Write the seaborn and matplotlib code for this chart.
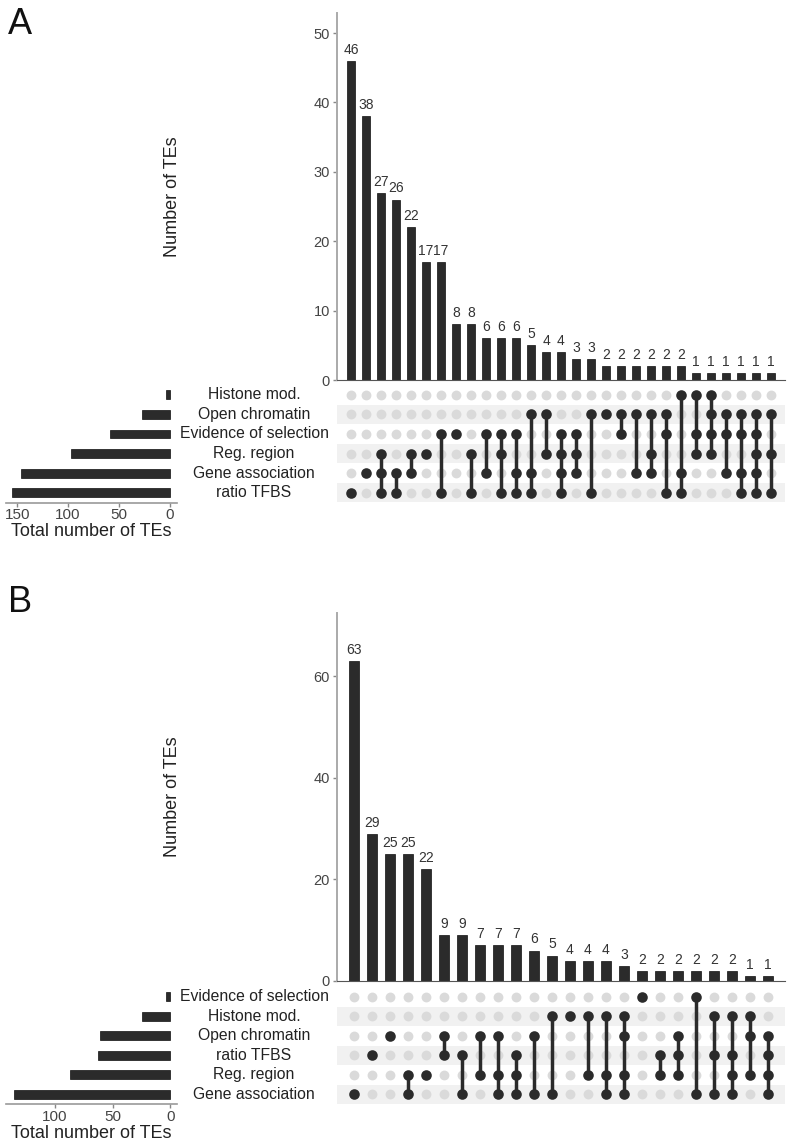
import numpy as np
import pandas as pd
import seaborn as sns
import matplotlib.pyplot as plt

# nomes dos conjuntos (codigo de uma letra -> rotulo)
names = {'H': 'Histone mod.', 'O': 'Open chromatin', 'E': 'Evidence of selection',
         'R': 'Reg. region', 'G': 'Gene association', 'T': 'ratio TFBS'}

# Painel A: linhas da matriz de cima para baixo, intersecoes e contagens
rowsA = ['H', 'O', 'E', 'R', 'G', 'T']
combosA = ['T', 'G', 'RGT', 'GT', 'RG', 'R', 'ET', 'E', 'RT', 'EG', 'ERT', 'EGT', 'OGT', 'OR',
           'ERGT', 'ERG', 'OT', 'O', 'OE', 'OG', 'ORG', 'OET', 'HGT', 'HER', 'HOER', 'OEG',
           'OEGT', 'OERGT', 'ORT']
countsA = [46, 38, 27, 26, 22, 17, 17, 8, 8, 6, 6, 6, 5, 4, 4, 3, 3, 2, 2, 2, 2, 2, 2,
           1, 1, 1, 1, 1, 1]
yticksA = [0, 10, 20, 30, 40, 50]
xticksA = [150, 100, 50, 0]

# Painel B
rowsB = ['E', 'H', 'O', 'T', 'R', 'G']
combosB = ['G', 'T', 'O', 'RG', 'R', 'OT', 'TG', 'OR', 'ORG', 'TRG', 'OG', 'HG', 'H', 'HR',
           'HRG', 'HORG', 'E', 'TR', 'OTR', 'EG', 'HTG', 'HTRG', 'HOR', 'OTRG']
countsB = [63, 29, 25, 25, 22, 9, 9, 7, 7, 7, 6, 5, 4, 4, 4, 3, 2, 2, 2, 2, 2, 2, 1, 1]
yticksB = [0, 20, 40, 60]
xticksB = [100, 50, 0]

W, H = 787, 1144
DARK = '#2b2b2b'
GREY_DOT = '#dadada'
BAND = '#f1f1f1'
TXT = '#222222'


def box(l, t, r, b):
    return [l / W, 1 - b / H, (r - l) / W, (b - t) / H]


def upset(fig, rows, combos, counts, yticks, xticks, g):
    n = len(combos)
    margin = 0.95
    xlim = (-margin, n - 1 + margin)

    # barras principais
    ax = fig.add_axes(box(337, g['bar_top'], 785, g['bar_bot']))
    df = pd.DataFrame({'i': range(n), 'n': counts})
    sns.barplot(data=df, x='i', y='n', color=DARK, saturation=1, width=0.55,
                edgecolor='#111111', linewidth=0.5, ax=ax)
    ax.bar_label(ax.containers[0], fmt='%d', padding=3, fontsize=10, color='#333333')
    ax.set_xlim(*xlim)
    ax.set_ylim(0, max(counts) * 1.15)
    ax.set_xticks([])
    ax.set_xlabel('')
    ax.set_yticks(yticks)
    ax.set_ylabel('Number of TEs', fontsize=13, color=TXT)
    ax.yaxis.set_label_coords(-0.348, 0.5)
    ax.tick_params(axis='y', left=True, labelsize=10.5, colors='#888888',
                   labelcolor='#444444', length=3, width=1, pad=2)
    for s in ['top', 'right']:
        ax.spines[s].set_visible(False)
    ax.spines['left'].set_color('#aaaaaa')
    ax.spines['left'].set_linewidth(1.4)
    ax.spines['bottom'].set_color('#555555')
    ax.spines['bottom'].set_linewidth(0.8)

    # matriz de pontos
    axm = fig.add_axes(box(337, g['mat_top'], 785, g['mat_bot']))
    recs = []
    for c, combo in enumerate(combos):
        for r, key in enumerate(rows):
            recs.append([c, r, key in combo])
    grid = pd.DataFrame(recs, columns=['col', 'row', 'on'])
    for r in range(1, len(rows), 2):
        axm.axhspan(r - 0.5, r + 0.5, color=BAND, zorder=0, lw=0)
    sns.scatterplot(data=grid[~grid['on']], x='col', y='row', color=GREY_DOT, s=50,
                    linewidth=0, ax=axm, zorder=2)
    for c in range(n):
        on = grid[(grid['col'] == c) & grid['on']]['row']
        axm.plot([c, c], [on.min(), on.max()], color=DARK, lw=2.5, zorder=3,
                 solid_capstyle='butt')
    sns.scatterplot(data=grid[grid['on']], x='col', y='row', color=DARK, s=58,
                    linewidth=0, ax=axm, zorder=4)
    axm.set_xlim(*xlim)
    axm.set_ylim(len(rows) - 0.5, -0.5)
    axm.set_axis_off()

    # tamanhos dos conjuntos
    axs = fig.add_axes(box(6, g['mat_top'], 177, g['mat_bot']))
    sizes = [sum(cnt for combo, cnt in zip(combos, counts) if key in combo) for key in rows]
    sdf = pd.DataFrame({'set': rows, 'size': sizes})
    sns.barplot(data=sdf, x='size', y='set', order=rows, orient='h', color=DARK,
                saturation=1, width=0.45, edgecolor='#111111', linewidth=0.5, ax=axs)
    axs.set_xlim(*g['set_xlim'])
    axs.set_ylim(len(rows) - 0.5, -0.5)
    axs.set_yticks([])
    axs.set_ylabel('')
    axs.set_xticks(xticks)
    axs.set_xlabel('Total number of TEs', fontsize=13, color=TXT, labelpad=1)
    axs.tick_params(axis='x', bottom=True, labelsize=11, colors='#888888',
                    labelcolor='#444444', length=3, width=1, pad=1)
    for s in ['top', 'right', 'left']:
        axs.spines[s].set_visible(False)
    axs.spines['bottom'].set_color('#999999')
    axs.spines['bottom'].set_linewidth(1.2)
    for r, key in enumerate(rows):
        axs.text((254 - 6) / 171, r, names[key], transform=axs.get_yaxis_transform(),
                 ha='center', va='center', fontsize=11.3, color=TXT)

    fig.text(8 / W, 1 - g['letter'] / H, g['name'], fontsize=26, color='#111111',
             va='baseline', ha='left')


if __name__ == "__main__":
    sns.set_style('white')
    plt.rcParams['font.family'] = ['Liberation Sans', 'DejaVu Sans']

    fig = plt.figure(figsize=(W / 100, H / 100), dpi=100)
    upset(fig, rowsA, combosA, countsA, yticksA, xticksA,
          dict(bar_top=13, bar_bot=380, mat_top=385, mat_bot=502.5,
               set_xlim=(161, -7), letter=34, name='A'))
    upset(fig, rowsB, combosB, countsB, yticksB, xticksB,
          dict(bar_top=613, bar_bot=981, mat_top=987, mat_bot=1104,
               set_xlim=(142.6, -5.8), letter=612, name='B'))
    fig.savefig('out.png', dpi=100)
